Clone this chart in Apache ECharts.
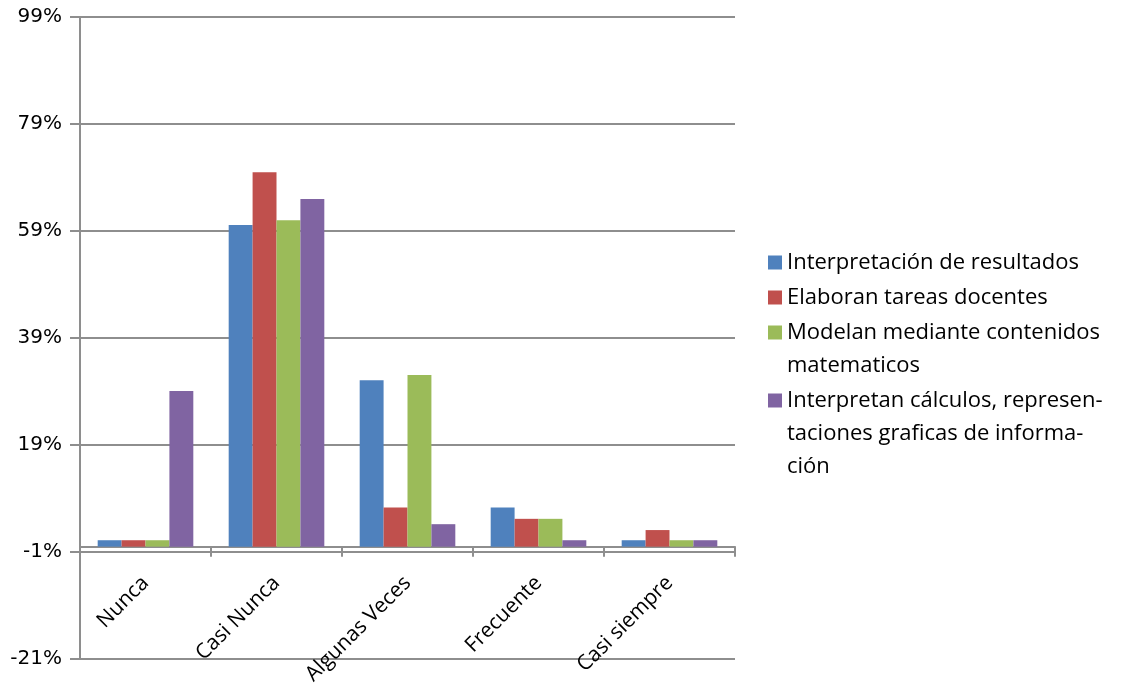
<!DOCTYPE html>
<html>
<head>
<meta charset="utf-8">
<script src="https://cdn.jsdelivr.net/npm/echarts@6/dist/echarts.min.js"></script>
<style>
  html, body { margin: 0; padding: 0; background: #ffffff; }
  #chart { width: 1134px; height: 690px; }
</style>
</head>
<body>
<div id="chart"></div>
<script>
// Response categories along the horizontal axis
const categories = ['Nunca', 'Casi Nunca', 'Algunas Veces', 'Frecuente', 'Casi siempre'];

// Percentage of answers per indicator
const interpretacionResultados = [1.2, 60.1, 31.1, 7.3, 1.2];
const elaboranTareas = [1.2, 70.0, 7.3, 5.2, 3.1];
const modelanContenidos = [1.2, 61.0, 32.1, 5.2, 1.2];
const interpretanCalculos = [29.1, 65.0, 4.2, 1.2, 1.2];

// Legend / series names (line breaks as printed)
const seriesNames = [
  'Interpretación de resultados',
  'Elaboran tareas docentes',
  'Modelan mediante contenidos\nmatematicos',
  'Interpretan cálculos, represen-\ntaciones graficas de informa-\nción'
];

// Value axis range and step
const yMin = -21, yMax = 99, yStep = 20;

const seriesValues = [interpretacionResultados, elaboranTareas, modelanContenidos, interpretanCalculos];
const colors = ['#4F81BD', '#C0504D', '#9BBB59', '#8064A2'];

const axisGray = '#8e8e8e';
const lineH = 33;
const textFont = '"Open Sans", Lato, sans-serif';

// Plot box
const gridTop = 17, gridBottom = 31, chartH = 690;
const plotH = chartH - gridTop - gridBottom;
// Category axis sits on the zero line: shift it up from the plot bottom
const zeroOffset = -plotH * (0 - yMin) / (yMax - yMin);

// One legend block per series; blank leading lines keep the swatch level with the first text line
const legendTops = [246, 281, 283, 318];
const legends = seriesNames.map((name, i) => {
  const extra = name.split('\n').length - 1;
  return {
    orient: 'vertical',
    left: 768,
    top: legendTops[i],
    padding: 0,
    itemWidth: 14,
    itemHeight: 14,
    itemGap: 0,
    icon: 'rect',
    selectedMode: false,
    data: [name],
    formatter: (n) => '\n'.repeat(extra) + n,
    textStyle: {
      fontFamily: textFont,
      fontSize: 22,
      color: '#000000',
      lineHeight: lineH
    }
  };
});

const chart = echarts.init(document.getElementById('chart'), null, { renderer: 'canvas' });

chart.setOption({
  animation: false,
  backgroundColor: '#ffffff',
  color: colors,
  grid: { left: 80, right: 399, top: gridTop, bottom: gridBottom, containLabel: false, outerBoundsMode: 'none' },
  legend: legends,
  xAxis: {
    type: 'category',
    data: categories,
    position: 'bottom',
    offset: zeroOffset,
    axisLine: { onZero: false, lineStyle: { color: axisGray, width: 2 } },
    axisTick: { show: true, length: 10, interval: 0, lineStyle: { color: axisGray, width: 2 } },
    axisLabel: {
      interval: 0,
      rotate: 45,
      margin: 33,
      fontFamily: textFont,
      fontSize: 21,
      color: '#000000'
    },
    splitLine: { show: false }
  },
  yAxis: {
    type: 'value',
    min: yMin,
    max: yMax,
    interval: yStep,
    axisLine: { show: true, lineStyle: { color: axisGray, width: 2 } },
    axisTick: { show: true, length: 10, lineStyle: { color: axisGray, width: 2 } },
    axisLabel: {
      formatter: '{value}%',
      margin: 18,
      fontFamily: '"DejaVu Sans", sans-serif',
      fontSize: 20,
      color: '#000000'
    },
    splitLine: { show: true, lineStyle: { color: axisGray, width: 2 } }
  },
  series: seriesNames.map((name, i) => ({
    name: name,
    type: 'bar',
    data: seriesValues[i],
    barGap: '0%',
    barCategoryGap: '27%',
    itemStyle: { color: colors[i] }
  }))
});
</script>
</body>
</html>
